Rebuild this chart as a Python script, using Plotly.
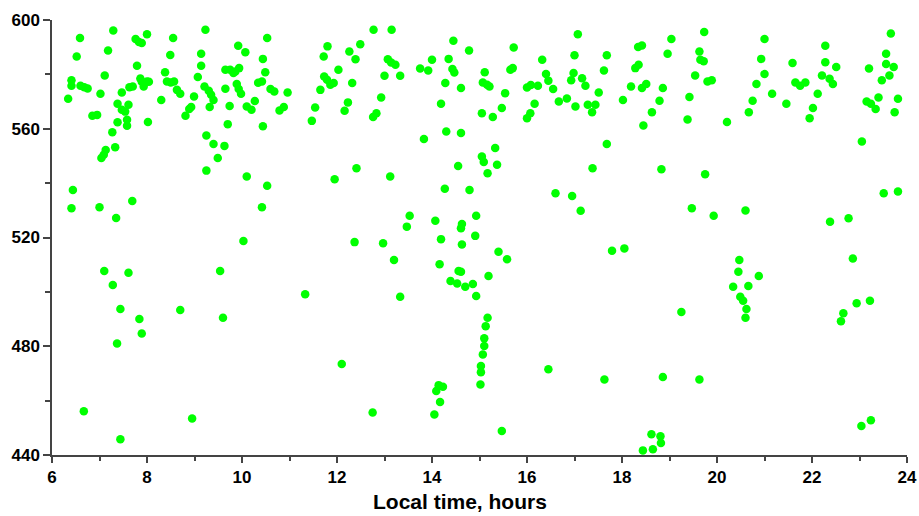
import plotly.graph_objects as go

# Local time (hours) and value pairs, grouped by time block
morning_t = [6.34, 6.41, 6.41, 6.52, 6.59, 6.60, 6.68, 6.75, 6.85, 6.95, 7.02, 7.11, 7.18, 7.29,
             7.04, 7.09, 7.13, 7.33, 7.27, 7.38, 7.38, 7.47, 7.47, 7.54, 7.58, 7.58, 7.61, 7.63,
             7.70, 7.79, 7.76, 7.83, 7.89, 8.00, 7.86, 7.89, 7.93, 8.00, 8.04, 8.02, 8.30, 8.38,
             8.49, 8.55, 8.42, 8.50, 8.57, 8.63, 8.70, 8.81, 8.89, 8.93, 8.99, 9.07, 9.14, 9.14,
             9.23, 9.21, 9.30, 9.35, 9.40, 9.32, 9.25, 9.40, 9.63, 9.49, 9.65, 9.65, 9.75, 9.82,
             9.86, 9.94, 9.92, 10.07, 9.89, 9.93, 9.98, 9.74, 9.70, 10.10, 10.20, 10.27, 10.34,
             6.44, 6.41, 7.00, 7.35, 7.69, 9.25, 10.10, 10.03, 7.10, 7.61, 7.28, 9.54, 7.44, 8.70,
             7.84, 9.60, 7.89, 7.37, 6.67, 8.95, 7.44]
morning_v = [571.0, 577.8, 575.8, 586.6, 593.4, 575.8, 575.3, 574.8, 564.8, 565.1, 572.9, 579.6, 588.8, 596.1,
             549.2, 550.4, 552.2, 553.2, 558.7, 562.4, 569.2, 573.3, 567.0, 566.3, 563.3, 561.1, 568.8, 575.3,
             575.5, 583.2, 593.0, 591.9, 591.5, 594.8, 578.5, 577.3, 575.5, 577.4, 577.3, 562.5, 570.6, 580.8,
             587.1, 593.4, 577.4, 577.0, 577.4, 574.3, 572.9, 564.8, 567.3, 568.0, 571.9, 579.0, 583.2, 587.6,
             596.4, 575.5, 574.0, 572.5, 570.6, 568.0, 557.5, 554.4, 553.7, 549.2, 574.7, 581.7, 581.7, 580.5,
             581.1, 582.3, 590.5, 588.1, 576.5, 574.6, 572.9, 568.4, 561.7, 568.2, 567.0, 570.2, 576.9,
             537.5, 530.8, 531.1, 527.2, 533.4, 544.6, 542.4, 518.7, 507.7, 507.0, 502.5, 507.7, 493.7, 493.3,
             490.0, 490.5, 484.7, 481.0, 456.1, 453.4, 445.8]

midday_t = [10.53, 10.44, 10.49, 10.42, 10.60, 10.68, 10.96, 10.79, 10.88, 10.44, 11.80, 11.72, 11.73,
            11.79, 11.86, 11.93, 11.65, 11.54, 11.47, 12.03, 12.26, 12.39, 12.49, 12.32, 12.23, 12.16,
            12.77, 13.15, 13.07, 13.14, 13.23, 13.00, 13.33, 12.93, 12.83, 12.76, 13.75, 13.92, 14.00,
            14.35, 14.45, 14.43, 14.47, 14.28, 14.61, 14.19, 14.30, 14.61, 13.83, 14.78,
            10.53, 10.42, 11.95, 12.41, 13.12, 14.55, 14.27, 14.79, 13.53, 13.47, 14.07, 14.63, 14.61,
            14.19, 14.63, 12.37, 12.97, 13.20, 14.16, 14.56, 14.61, 14.39, 14.53, 14.70, 11.33, 13.33,
            14.93, 14.91, 14.86, 14.93, 12.10, 12.75, 14.05, 14.17, 14.09, 14.14, 14.23]
midday_v = [593.4, 585.7, 580.8, 577.4, 574.6, 573.7, 573.3, 566.7, 568.0, 560.9, 590.3, 586.6, 579.2,
            578.0, 576.2, 576.8, 574.3, 567.8, 562.9, 581.7, 588.4, 585.6, 591.1, 576.8, 569.7, 566.6,
            596.4, 596.4, 585.6, 584.4, 583.5, 579.5, 579.5, 571.5, 565.7, 564.3, 582.2, 581.4, 585.4,
            585.7, 592.4, 582.0, 580.7, 576.8, 575.0, 569.2, 559.0, 558.4, 556.2, 588.8,
            539.0, 531.1, 541.4, 545.5, 542.4, 546.3, 537.9, 537.5, 528.0, 524.0, 526.2, 525.0, 523.4,
            519.4, 517.4, 518.3, 517.9, 511.7, 510.2, 507.7, 507.4, 504.0, 503.1, 501.9, 499.1, 498.2,
            528.0, 520.6, 502.9, 498.5, 473.5, 455.6, 454.9, 459.5, 463.5, 465.7, 465.1]

afternoon_t = [15.72, 15.11, 15.07, 15.16, 15.21, 15.54, 15.65, 15.70, 15.05, 15.28, 15.47, 16.32, 16.00,
               16.08, 16.23, 16.16, 16.07, 16.00, 16.40, 16.45, 16.55, 16.67, 16.84, 17.07, 17.00, 16.98,
               16.93, 17.16, 17.23, 17.02, 17.28, 17.37, 17.44, 17.51, 17.62, 17.68, 17.68, 18.02, 18.19,
               18.28, 18.35, 18.34, 18.42, 18.42, 18.51, 18.86, 18.79, 18.63, 18.45, 18.96, 19.04, 19.42,
               19.38, 15.05, 15.09, 15.33, 15.37, 15.17,
               15.40, 15.58, 15.19, 16.60, 16.95, 17.13, 17.38, 18.83, 17.79, 18.05,
               15.17, 15.13, 15.10, 15.10, 15.07, 15.03, 15.03, 15.02, 16.45, 17.63, 18.86, 15.47, 18.62,
               18.81, 18.82, 18.65, 18.44]
afternoon_v = [589.9, 580.8, 577.0, 576.2, 575.5, 573.1, 581.7, 582.3, 565.7, 564.3, 567.6, 585.4, 575.2,
               576.1, 575.8, 569.2, 565.7, 563.9, 580.1, 577.7, 574.6, 570.0, 571.1, 594.8, 587.0, 580.5,
               577.8, 578.6, 575.8, 568.2, 568.8, 566.1, 568.8, 573.3, 581.4, 587.0, 554.4, 570.6, 575.5,
               582.3, 583.5, 590.1, 590.6, 575.0, 576.5, 575.0, 570.3, 566.1, 561.2, 587.6, 593.0, 571.7,
               563.4, 549.8, 547.8, 552.9, 546.8, 543.6,
               514.8, 512.0, 505.8, 536.3, 535.3, 529.8, 545.5, 545.1, 515.1, 516.0,
               490.5, 487.4, 482.9, 480.1, 477.0, 472.7, 470.4, 465.9, 471.5, 467.8, 468.7, 448.8, 447.6,
               446.9, 444.4, 442.1, 441.7]

evening_t = [19.73, 19.63, 19.65, 19.72, 19.54, 19.80, 19.89, 20.21, 21.00, 20.93, 21.00, 20.83, 21.16,
             20.75, 20.67, 21.59, 21.65, 21.75, 21.86, 21.46, 22.28, 22.28, 22.51, 22.21, 22.37, 22.44,
             22.12, 22.02, 21.95, 23.05, 23.20, 23.66, 23.56, 23.56, 23.72, 23.63, 23.47, 23.40, 23.15,
             23.24, 23.34, 23.81, 23.74,
             19.75, 19.47, 19.93, 20.60, 22.38, 22.77, 23.51, 23.81, 22.86, 20.47, 20.45, 20.88, 20.34,
             20.66, 20.49, 20.55, 20.62, 19.25, 22.94, 23.22, 22.66, 20.60, 22.61, 19.63, 23.04, 23.24]
evening_v = [595.6, 588.4, 585.4, 584.8, 579.6, 577.4, 577.8, 562.5, 593.0, 585.7, 580.1, 576.5, 572.9,
             570.3, 566.1, 584.2, 577.0, 575.8, 577.0, 569.2, 590.5, 584.5, 582.7, 579.6, 578.4, 576.5,
             572.9, 567.6, 563.9, 555.3, 582.2, 595.0, 587.6, 583.8, 582.7, 579.6, 577.8, 571.5, 570.0,
             569.2, 567.3, 571.0, 566.1,
             543.3, 530.8, 528.0, 529.9, 525.8, 527.1, 536.3, 536.9, 512.3, 511.7, 507.4, 505.8, 501.9,
             502.2, 498.2, 496.7, 493.7, 492.6, 495.8, 496.7, 492.1, 490.5, 489.2, 467.8, 450.7, 452.8]

x_title = "Local time, hours"

times = morning_t + midday_t + afternoon_t + evening_t
values = morning_v + midday_v + afternoon_v + evening_v

fig = go.Figure()
fig.add_trace(go.Scatter(
    x=times, y=values, mode="markers",
    marker=dict(color="#00FF00", size=8.5, line=dict(width=0)),
    cliponaxis=False, hoverinfo="x+y",
))

axis_col = "#444444"
tick_font = dict(family="Liberation Sans, Arial, sans-serif", size=17, color="black", weight="bold")

fig.update_layout(
    width=919, height=516,
    margin=dict(l=52, r=12, t=20, b=61, autoexpand=False),
    plot_bgcolor="white", paper_bgcolor="white",
    showlegend=False,
    xaxis=dict(range=[6, 24], tick0=6, dtick=2, showgrid=False, zeroline=False,
               automargin=False,
               showline=True, linecolor=axis_col, linewidth=1.5,
               ticks="outside", ticklen=6, tickwidth=1.5, tickcolor=axis_col,
               tickfont=tick_font,
               minor=dict(ticks="outside", ticklen=4, dtick=1, tickwidth=1.5,
                          tickcolor=axis_col, showgrid=False)),
    yaxis=dict(range=[440, 600], tick0=440, dtick=40, showgrid=False, zeroline=False,
               automargin=False,
               showline=True, linecolor=axis_col, linewidth=1.5,
               ticks="outside", ticklen=7, tickwidth=1.5, tickcolor=axis_col,
               tickfont=tick_font,
               minor=dict(ticks="outside", ticklen=5, dtick=20, tickwidth=1.5,
                          tickcolor=axis_col, showgrid=False)),
    annotations=[dict(text=x_title, xref="paper", yref="paper", x=0.477, y=-0.107,
                      xanchor="center", yanchor="middle", showarrow=False,
                      font=dict(family="Liberation Sans, Arial, sans-serif", size=21,
                                color="black", weight="bold"))],
)

fig.write_html("out.html")
